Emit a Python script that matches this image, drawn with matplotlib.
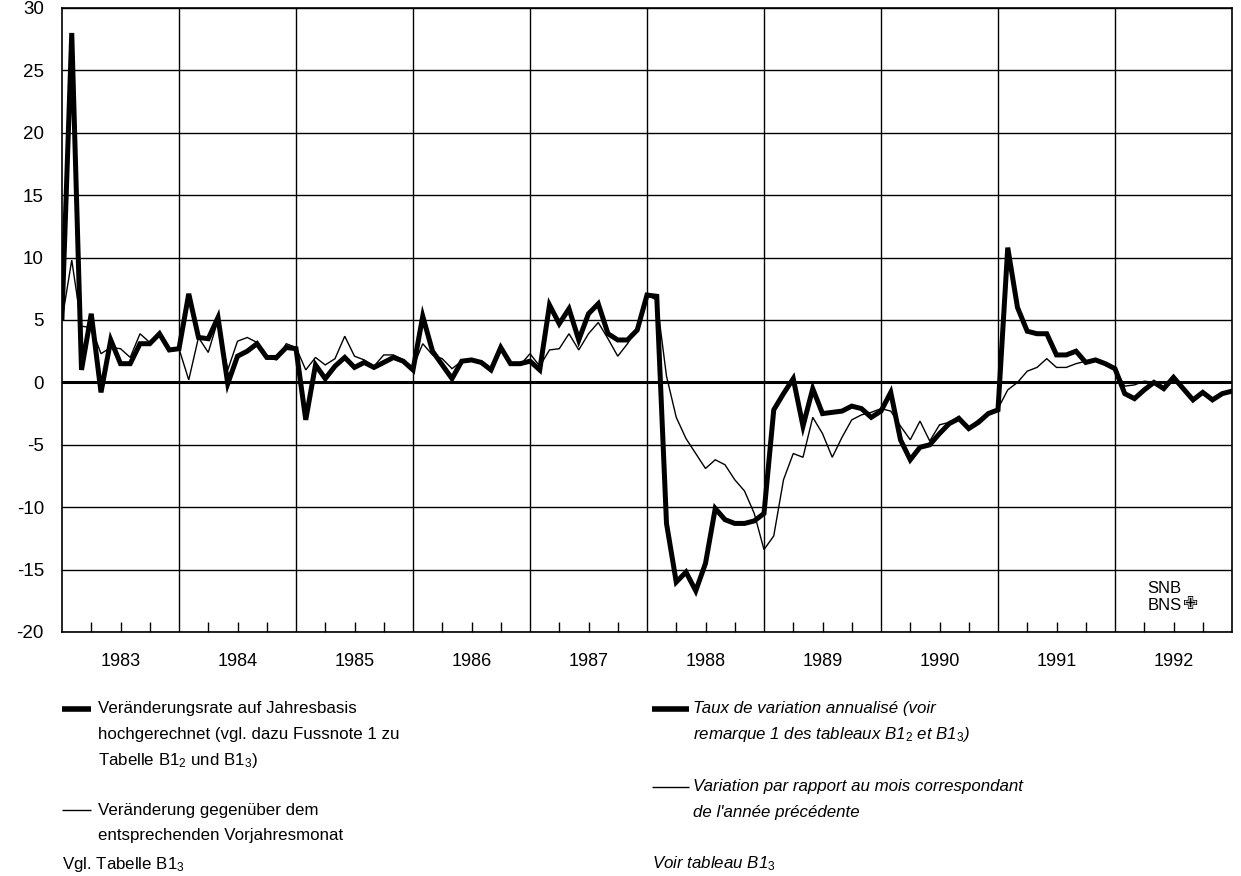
import matplotlib
matplotlib.use("Agg")
import matplotlib.pyplot as plt
import matplotlib.transforms as mtransforms
import numpy as np

plt.rcParams['font.family'] = ['Liberation Sans', 'DejaVu Sans']
plt.rcParams['mathtext.fontset'] = 'custom'
plt.rcParams['mathtext.rm'] = 'Liberation Sans'
plt.rcParams['mathtext.it'] = 'Liberation Sans:italic'

# ---- data (monthly, Jan 1983 .. Jan 1993) ----
start_year = 1983
annualised = [
    5.2, 28.0, 1.0, 5.5, -0.8, 3.4, 1.5, 1.5, 3.1, 3.1, 3.9, 2.6,          # 1983
    2.7, 7.1, 3.6, 3.5, 5.2, -0.1, 2.1, 2.5, 3.1, 2.0, 2.0, 2.8,           # 1984
    2.7, -3.0, 1.4, 0.3, 1.3, 2.0, 1.2, 1.6, 1.2, 1.6, 2.0, 1.7,           # 1985
    1.0, 5.3, 2.5, 1.4, 0.3, 1.7, 1.8, 1.6, 1.0, 2.8, 1.5, 1.5,            # 1986
    1.7, 1.0, 6.2, 4.7, 5.9, 3.4, 5.5, 6.3, 3.9, 3.4, 3.4, 4.2,            # 1987
    7.0, 6.9, -11.3, -16.0, -15.2, -16.7, -14.5, -10.1, -11.0, -11.3, -11.3, -11.1,  # 1988
    -10.5, -2.2, -0.9, 0.3, -3.5, -0.5, -2.5, -2.4, -2.3, -1.9, -2.1, -2.8,  # 1989
    -2.3, -0.8, -4.6, -6.2, -5.2, -5.0, -4.1, -3.3, -2.9, -3.7, -3.2, -2.5,  # 1990
    -2.2, 10.8, 6.0, 4.1, 3.9, 3.9, 2.2, 2.2, 2.5, 1.6, 1.8, 1.5,          # 1991
    1.1, -0.9, -1.3, -0.6, 0.0, -0.5, 0.4, -0.5, -1.4, -0.8, -1.4, -0.9,   # 1992
    -0.7,                                                                  # Jan 1993
]
year_on_year = [
    5.0, 9.8, 4.5, 4.4, 2.3, 2.8, 2.7, 2.0, 3.9, 3.2, 4.0, 2.6,            # 1983
    2.7, 0.2, 3.6, 2.4, 5.0, 1.0, 3.3, 3.6, 3.2, 2.0, 1.8, 3.1,            # 1984
    2.8, 1.0, 2.0, 1.4, 1.9, 3.7, 2.1, 1.8, 1.3, 2.2, 2.2, 1.8,            # 1985
    1.2, 3.1, 2.2, 1.9, 1.1, 1.7, 1.8, 1.6, 1.0, 2.6, 1.4, 1.4,            # 1986
    2.3, 1.3, 2.6, 2.7, 3.9, 2.6, 3.9, 4.8, 3.5, 2.1, 3.1, 4.4,            # 1987
    7.0, 6.6, 0.5, -2.8, -4.5, -5.7, -6.9, -6.2, -6.6, -7.8, -8.7, -10.5,  # 1988
    -13.4, -12.3, -7.8, -5.7, -6.0, -2.8, -4.1, -6.0, -4.4, -3.0, -2.6, -2.4,  # 1989
    -2.1, -2.3, -3.5, -4.6, -3.1, -4.7, -3.4, -3.2, -2.7, -3.7, -3.0, -2.5,  # 1990
    -2.1, -0.6, 0.0, 0.9, 1.2, 1.9, 1.2, 1.2, 1.5, 1.7, 1.8, 1.5,          # 1991
    1.1, -0.3, -0.2, 0.1, 0.0, -0.6, 0.3, -0.5, -1.4, -0.8, -1.4, -0.9,    # 1992
    -0.7,                                                                  # Jan 1993
]
year_labels = ['1983', '1984', '1985', '1986', '1987',
               '1988', '1989', '1990', '1991', '1992']
y_ticks = [30, 25, 20, 15, 10, 5, 0, -5, -10, -15, -20]

legend_de_thick = ["Veränderungsrate auf Jahresbasis",
                   "hochgerechnet (vgl. dazu Fussnote 1 zu",
                   "Tabelle B1$_2$ und B1$_3$)"]
legend_de_thin = ["Veränderung gegenüber dem",
                  "entsprechenden Vorjahresmonat"]
legend_fr_thick = ["Taux de variation annualisé (voir",
                   "remarque 1 des tableaux B1$_\\mathit{2}$ et B1$_\\mathit{3}$)"]
legend_fr_thin = ["Variation par rapport au mois correspondant",
                  "de l'année précédente"]
source_de = "Vgl. Tabelle B1$_3$"
source_fr = "Voir tableau B1$_\\mathit{3}$"

# ---- figure ----
W, H = 1241, 876
fig = plt.figure(figsize=(W / 100, H / 100), dpi=100)
ax = fig.add_axes([62 / W, 1 - 632 / H, (1232 - 62) / W, (632 - 8) / H])

x = start_year + np.arange(len(annualised)) / 12.0
ax.plot(x, year_on_year, color='black', lw=1.0, solid_joinstyle='miter', zorder=3)
ax.plot(x, annualised, color='black', lw=3.6, solid_joinstyle='miter', zorder=4)

ax.set_xlim(1983, 1993)
ax.set_ylim(-20, 30)

ax.set_xticks(np.arange(1984, 1993))
ax.set_xticklabels([])
ax.tick_params(axis='x', which='major', length=0)
ax.set_xticks([y + q for y in range(1983, 1993) for q in (0.25, 0.5, 0.75)], minor=True)
ax.tick_params(axis='x', which='minor', direction='in', length=7.5, width=1.0, color='black')
ax.set_yticks(y_ticks)
ax.set_yticklabels([str(v) for v in y_ticks], fontsize=13.5)
ax.tick_params(axis='y', length=0, pad=13)
ax.grid(True, which='major', color='black', lw=1.0, zorder=1)
ax.axhline(0, color='black', lw=2.2, zorder=2)
for s in ax.spines.values():
    s.set_linewidth(1.2)
    s.set_color('black')

trans = mtransforms.blended_transform_factory(ax.transData, fig.transFigure)
for i, lab in enumerate(year_labels):
    ax.text(1983 + i + 0.5, 1 - 661 / H, lab, transform=trans, ha='center', va='center',
            fontsize=13)

# SNB logo text
ax.text(1992.28, -16.5, "SNB", ha='left', va='center', fontsize=12)
ax.text(1992.28, -17.85, "BNS", ha='left', va='center', fontsize=12)
ax.text(1992.58, -17.75, "\u2719", ha='left', va='center', fontsize=13, family=['DejaVu Sans'])

def fy(py):
    return 1 - py / H

def sample(x0, x1, py, kind):
    lw = 4.0 if kind == 'thick' else 1.0
    fig.add_artist(plt.Line2D([x0 / W, x1 / W], [fy(py), fy(py)], color='black', lw=lw,
                              solid_capstyle='butt'))

fs = 12.2

def block(x0, y0, lines, italic=False, dy=25.5):
    for k, t in enumerate(lines):
        fig.text(x0 / W, fy(y0 + k * dy), t, ha='left', va='center', fontsize=fs,
                 style='italic' if italic else 'normal')

# German column
sample(62, 91, 709, 'thick')
block(98, 709, legend_de_thick)
sample(62, 91, 810, 'thin')
block(98, 810, legend_de_thin)
block(62, 864, [source_de])

# French column
sample(652, 689, 709, 'thick')
block(693, 709, legend_fr_thick, italic=True)
sample(652, 689, 787, 'thin')
block(693, 787, legend_fr_thin, italic=True)
block(652, 864, [source_fr], italic=True)

fig.savefig('out.png', dpi=100)
